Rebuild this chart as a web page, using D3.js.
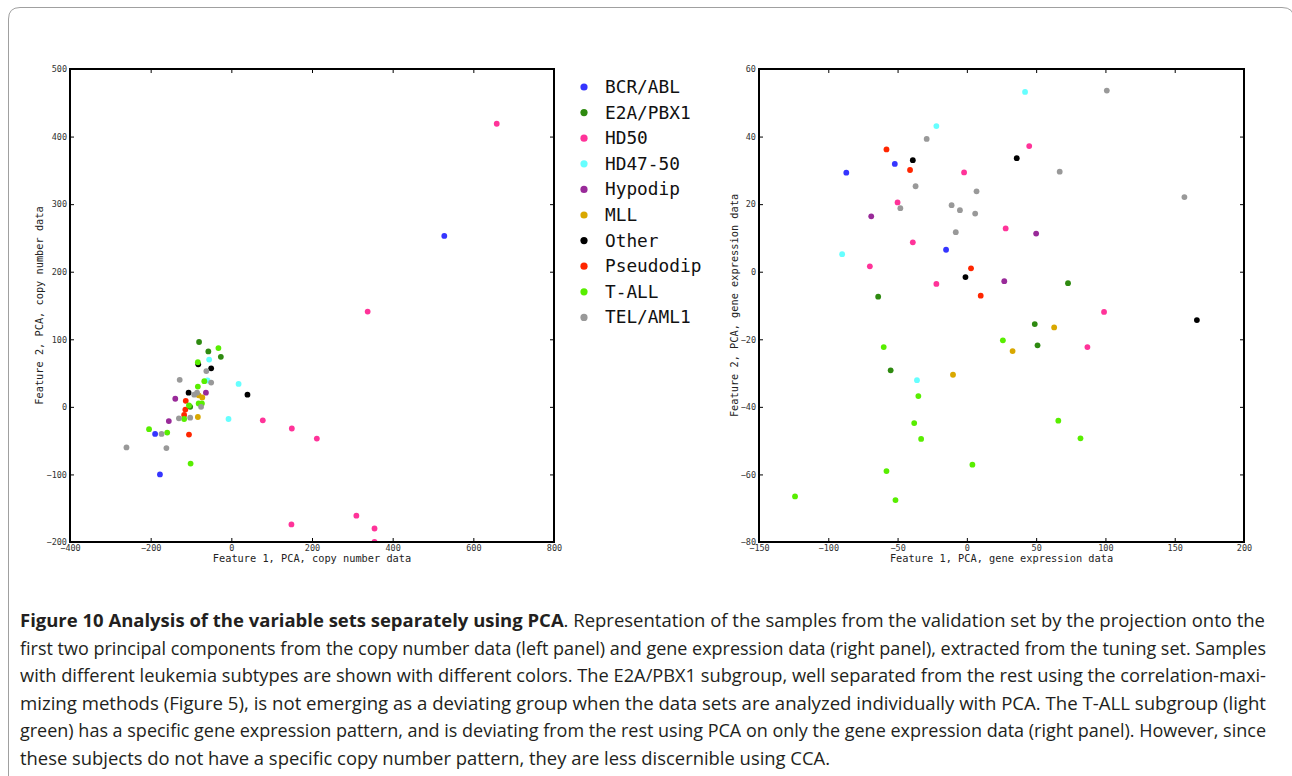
<!DOCTYPE html>
<html><head><meta charset="utf-8">
<script src="https://cdn.jsdelivr.net/npm/d3@7"></script>
<style>body{margin:0;background:#fff}</style>
</head><body>
<svg id="c" width="1292" height="776"></svg>
<script>
const categories = ["BCR/ABL","E2A/PBX1","HD50","HD47-50","Hypodip","MLL","Other","Pseudodip","T-ALL","TEL/AML1"];
const categoryColors = ["#3535ff","#2e8a10","#ff3399","#66ffff","#992a99","#d9a800","#000000","#ff2600","#58ee00","#999999"];

// Left panel: copy number PCA
const cnX = [528,-189,-177,
  -80,-57,-26,-102,
  658,338,78,150,212,310,149,355,355,
  -55,-59,18,-7,
  -63,-139,-155,
  -81,-72,-83,
  -82,-50,40,-106,
  -113,-114,-117,-105,
  -32,-83,-67,-83,-81,-73,-105,-117,-204,-159,-101,
  -62,-128,-50,-85,-92,-75,-130,-102,-173,-260,-161];
const cnY = [253,-40,-100,
  96,82,74,0,
  419,141,-20,-32,-47,-161,-174,-180,-200,
  70,39,34,-18,
  21,12,-21,
  17,14,-15,
  63,57,18,21,
  9,-4,-12,-41,
  87,66,38,30,5,5,2,-18,-33,-38,-84,
  53,40,36,21,18,0,-17,-16,-40,-60,-61];
const cnGroup = [0,0,0, 1,1,1,1, 2,2,2,2,2,2,2,2,2, 3,3,3,3, 4,4,4, 5,5,5, 6,6,6,6, 7,7,7,7,
  8,8,8,8,8,8,8,8,8,8,8, 9,9,9,9,9,9,9,9,9,9,9];

// Right panel: gene expression PCA
const geX = [-87,-52,-15,
  -64,73,49,51,-55,
  45,-2,-50,28,-39,-70,-22,99,87,
  42,-22,-90,-36,
  -69,50,27,
  63,33,-10,
  -39,36,-1,166,
  -58,-41,3,10,
  26,-60,-35,66,-38,-33,82,4,-58,-124,-51.5,
  101,-29,67,-37,7,157,-11,-48,-5,6,-8];
const geY = [29.3,31.9,6.5,
  -7.4,-3.4,-15.5,-21.8,-29.2,
  37.2,29.4,20.5,12.8,8.7,1.6,-3.6,-11.9,-22.3,
  53.2,43.1,5.2,-32.1,
  16.4,11.3,-2.8,
  -16.5,-23.5,-30.5,
  33,33.6,-1.6,-14.3,
  36.2,30.1,1,-7.1,
  -20.3,-22.3,-36.8,-44.1,-44.8,-49.5,-49.3,-57.1,-59,-66.5,-67.6,
  53.6,39.3,29.6,25.3,23.8,22.1,19.7,18.8,18.2,17.2,11.7];
const geGroup = [0,0,0, 1,1,1,1,1, 2,2,2,2,2,2,2,2,2, 3,3,3,3, 4,4,4, 5,5,5, 6,6,6,6, 7,7,7,7,
  8,8,8,8,8,8,8,8,8,8,8, 9,9,9,9,9,9,9,9,9,9,9];

const cnXTicks = [-400,-200,0,200,400,600,800];
const cnYTicks = [-200,-100,0,100,200,300,400,500];
const geXTicks = [-150,-100,-50,0,50,100,150,200];
const geYTicks = [-80,-60,-40,-20,0,20,40,60];

const captionLines = [
  [["Figure 10 Analysis of the variable sets separately using PCA", true], [". Representation of the samples from the validation set by the projection onto the", false]],
  [["first two principal components from the copy number data (left panel) and gene expression data (right panel), extracted from the tuning set. Samples", false]],
  [["with different leukemia subtypes are shown with different colors. The E2A/PBX1 subgroup, well separated from the rest using the correlation-maxi-", false]],
  [["mizing methods (Figure 5), is not emerging as a deviating group when the data sets are analyzed individually with PCA. The T-ALL subgroup (light", false]],
  [["green) has a specific gene expression pattern, and is deviating from the rest using PCA on only the gene expression data (right panel). However, since", false]],
  [["these subjects do not have a specific copy number pattern, they are less discernible using CCA.", false]]
];
const captionWidths = [1245,1246,1246,1246,1246,810];

const svg = d3.select("#c");
const mono = "'DejaVu Sans Mono', monospace";

// page frame
svg.append("path")
  .attr("d", "M8.5,776 L8.5,19 Q8.5,7.5 20,7.5 L1282,7.5 Q1294,7.5 1294,19 L1294,776")
  .attr("fill","none").attr("stroke","#a0a0a0").attr("stroke-width",1);

function panel(x0, x1, y0, y1, xDom, yDom, xTicks, yTicks, xs, ys, gs, xLabel, yLabel, yLabOff) {
  const x = d3.scaleLinear().domain(xDom).range([x0, x1]);
  const y = d3.scaleLinear().domain(yDom).range([y1, y0]);
  const g = svg.append("g");
  const clipId = "clip" + Math.round(x0);
  svg.append("clipPath").attr("id", clipId).append("rect")
    .attr("x", x0).attr("y", y0).attr("width", x1 - x0).attr("height", y1 - y0);
  const pts = g.append("g").attr("clip-path", `url(#${clipId})`);
  categories.forEach((c, ci) => {
    const idx = d3.range(xs.length).filter(i => gs[i] === ci);
    pts.selectAll(null).data(idx).enter().append("circle")
      .attr("cx", i => x(xs[i])).attr("cy", i => y(ys[i]))
      .attr("r", 2.9).attr("fill", categoryColors[ci]);
  });
  const bottom = d3.axisBottom(x).tickValues(xTicks).tickSize(-4).tickPadding(3).tickFormat(d3.format("d"));
  const top = d3.axisTop(x).tickValues(xTicks).tickSize(-4).tickFormat("");
  const left = d3.axisLeft(y).tickValues(yTicks).tickSize(-4).tickPadding(3).tickFormat(d3.format("d"));
  const right = d3.axisRight(y).tickValues(yTicks).tickSize(-4).tickFormat("");
  const styleAx = a => {
    a.select(".domain").remove();
    a.selectAll(".tick line").attr("stroke","#000").attr("stroke-width",1);
    a.selectAll("text").attr("font-family", mono).attr("font-size", 8.5).attr("fill","#333");
  };
  g.append("g").attr("transform",`translate(0,${y1})`).call(bottom).call(styleAx);
  g.append("g").attr("transform",`translate(0,${y0})`).call(top).call(styleAx);
  g.append("g").attr("transform",`translate(${x0},0)`).call(left).call(styleAx);
  g.append("g").attr("transform",`translate(${x1},0)`).call(right).call(styleAx);
  g.append("rect").attr("x", x0).attr("y", y0).attr("width", x1 - x0).attr("height", y1 - y0)
    .attr("fill","none").attr("stroke","#000").attr("stroke-width",2);
  g.append("text").attr("x",(x0+x1)/2).attr("y", y1 + 20).attr("text-anchor","middle")
    .attr("font-family", mono).attr("font-size", 10.3).attr("fill","#222").text(xLabel);
  g.append("text").attr("transform",`translate(${x0-yLabOff},${(y0+y1)/2}) rotate(-90)`).attr("text-anchor","middle")
    .attr("font-family", mono).attr("font-size", 10.3).attr("fill","#222").text(yLabel);
}

panel(70, 554, 69, 542, [-400, 800], [-200, 500], cnXTicks, cnYTicks, cnX, cnY, cnGroup,
  "Feature 1, PCA, copy number data", "Feature 2, PCA, copy number data", 27);
panel(759, 1244, 69, 542, [-150, 200], [-80, 60], geXTicks, geYTicks, geX, geY, geGroup,
  "Feature 1, PCA, gene expression data", "Feature 2, PCA, gene expression data", 21);

// legend
const leg = svg.append("g");
categories.forEach((c, i) => {
  const yy = 87 + i * 25.6;
  leg.append("circle").attr("cx", 584).attr("cy", yy).attr("r", 3.6).attr("fill", categoryColors[i]);
  leg.append("text").attr("x", 605).attr("y", yy + 6).attr("font-family", mono).attr("font-size", 17.8)
    .attr("fill","#111").text(c);
});

// caption
const cap = svg.append("g");
captionLines.forEach((line, i) => {
  const t = cap.append("text").attr("x", 20).attr("y", 627 + i * 27.6)
    .attr("font-family", "'Open Sans', sans-serif").attr("font-size", 18).attr("fill", "#231f20")
    .attr("textLength", captionWidths[i]).attr("lengthAdjust", "spacingAndGlyphs");
  line.forEach(([s, b]) => t.append("tspan").attr("font-weight", b ? "bold" : "normal").text(s));
});
</script>
</body></html>
